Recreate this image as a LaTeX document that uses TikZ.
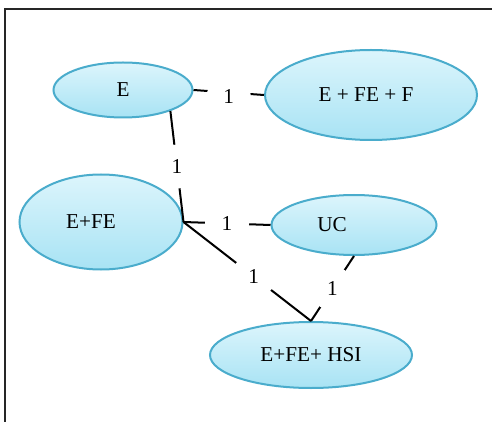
\documentclass[tikz,border=0pt]{standalone}
\usepackage{fontspec}
\setmainfont{Liberation Serif}
\usepackage{xcolor}
\usetikzlibrary{shapes.geometric}

\definecolor{ellline}{RGB}{74,172,204}
\definecolor{elltop}{RGB}{220,245,252}
\definecolor{ellbot}{RGB}{168,227,244}

\tikzset{
  state/.style={ellipse, draw=ellline, line width=1pt, top color=elltop,
    bottom color=ellbot, inner sep=0pt, font=\fontsize{10.6}{12}\selectfont},
  weight/.style={circle, fill=white, inner sep=0pt, minimum size=22pt,
    font=\fontsize{10.6}{12}\selectfont},
  link/.style={line width=1pt, black}
}

\begin{document}
\begin{tikzpicture}[x=0.5pt, y=-0.5pt]
        \useasboundingbox (0,0) rectangle (492,422);
        % frame
        \draw[line width=1pt, black!85] (5,422) -- (5,9) -- (492,9);
        % states
        \node[state, minimum width=69.5pt, minimum height=27.5pt] (e) at (123,90) {E};
        \node[state, minimum width=106pt, minimum height=45pt,
          label={[xshift=-2.5pt, font=\fontsize{10.6}{12}\selectfont]center:E + FE + F}] (eff) at (371,95) {};
        \node[state, minimum width=81.5pt, minimum height=47.5pt,
          label={[xshift=-5pt, font=\fontsize{10.6}{12}\selectfont]center:E+FE}] (efe) at (101,222) {};
        \node[state, minimum width=82.5pt, minimum height=30pt,
          label={[xshift=-11pt, font=\fontsize{10.6}{12}\selectfont]center:UC}] (uc) at (354,225) {};
        \node[state, minimum width=101pt, minimum height=33pt] (hsi) at (311,355) {E+FE+ HSI};
        % links
        \draw[link] (e.east) -- node[weight, yshift=-2pt] (w1) {1} (eff.west);
        \draw[link] (e.-24) -- node[weight] (w2) {1} (efe.east);
        \draw[link] (efe.east) -- node[weight] (w3) {1} (uc.west);
        \draw[link] (efe.east) -- node[weight, pos=0.55] (w4) {1} (hsi.north);
        \draw[link] (uc.south) -- node[weight] (w5) {1} (hsi.north);
    \end{tikzpicture}
\end{document}
